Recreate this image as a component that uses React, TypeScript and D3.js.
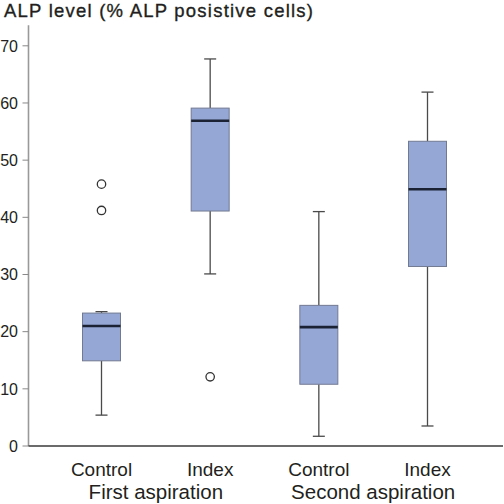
import React from "react";
import * as d3 from "d3";

const categories = ["Control", "Index", "Control ", "Index "];
const categoryLabels = ["Control", "Index", "Control", "Index"];
const groups = ["First aspiration", "Second aspiration"];
const groupOf = [0, 0, 1, 1];
const mins = [5.4, 30.1, 1.7, 3.5];
const q1s = [14.9, 41.1, 10.8, 31.4];
const medians = [21.0, 56.9, 20.8, 44.9];
const q3s = [23.25, 59.1, 24.6, 53.3];
const maxs = [23.5, 67.7, 41.0, 61.9];
const outliers: number[][] = [[41.2, 45.8], [12.1], [], []];
const yTicks = [0, 10, 20, 30, 40, 50, 60, 70];
const title = "ALP level (% ALP posistive cells)";

const W = 504;
const H = 504;
const FONT = "'Liberation Sans', Arial, Helvetica, sans-serif";
const TEXT = "#231f20";

export default function App() {
  const y = d3.scaleLinear().domain([0, 70]).range([446, 45.8]);
  const x = d3.scalePoint<string>().domain(categories).range([101.5, 427.5]);
  const boxW = 38;
  const capW = 12;
  const axisX = 28.5;

  return (
    <svg
      width={W}
      height={H}
      style={{ position: "absolute", left: 0, top: 0, display: "block", background: "#fff" }}
    >
      <text
        x={4}
        y={17}
        fontFamily={FONT}
        fontSize={18.5}
        fill={TEXT}
        stroke={TEXT}
        strokeWidth={0.35}
        textLength={309}
        lengthAdjust="spacing"
      >
        {title}
      </text>

      {/* y axis */}
      <line x1={axisX} x2={axisX} y1={y(0)} y2={y(73.6)} stroke="#999" strokeWidth={1.6} />
      {yTicks.map((t) => (
        <g key={t}>
          <line x1={axisX - 6} x2={axisX} y1={y(t)} y2={y(t)} stroke="#888" strokeWidth={1} />
          <text
            x={18}
            y={y(t)}
            dy="0.36em"
            textAnchor="end"
            fontFamily={FONT}
            fontSize={16}
            fill={TEXT}
          >
            {t}
          </text>
        </g>
      ))}

      {/* boxes */}
      {categories.map((c, i) => {
        const cx = x(c) as number;
        return (
          <g key={c}>
            <line x1={cx} x2={cx} y1={y(mins[i])} y2={y(q1s[i])} stroke="#4a4a4a" strokeWidth={1.3} />
            <line x1={cx} x2={cx} y1={y(q3s[i])} y2={y(maxs[i])} stroke="#4a4a4a" strokeWidth={1.3} />
            <line x1={cx - capW / 2} x2={cx + capW / 2} y1={y(mins[i])} y2={y(mins[i])} stroke="#4a4a4a" strokeWidth={1.3} />
            <line x1={cx - capW / 2} x2={cx + capW / 2} y1={y(maxs[i])} y2={y(maxs[i])} stroke="#4a4a4a" strokeWidth={1.3} />
            <rect
              x={cx - boxW / 2}
              y={y(q3s[i])}
              width={boxW}
              height={y(q1s[i]) - y(q3s[i])}
              fill="#95a7d5"
              stroke="#727a92"
              strokeWidth={1}
            />
            <line x1={cx - boxW / 2} x2={cx + boxW / 2} y1={y(medians[i])} y2={y(medians[i])} stroke="#1b2234" strokeWidth={2.6} />
            {outliers[i].map((o, k) => (
              <circle key={k} cx={cx} cy={y(o)} r={4.2} fill="#fff" stroke="#333" strokeWidth={1.3} />
            ))}
            <text x={cx} y={476} textAnchor="middle" fontFamily={FONT} fontSize={19} fill={TEXT}>
              {categoryLabels[i]}
            </text>
          </g>
        );
      })}

      {/* x axis */}
      <line x1={axisX} x2={503} y1={y(0)} y2={y(0)} stroke="#3a3a3a" strokeWidth={1.6} />

      {groups.map((g, gi) => {
        const members = categories.filter((_, i) => groupOf[i] === gi);
        const cx = d3.mean(members.map((m) => x(m) as number)) as number;
        return (
          <text key={g} x={cx} y={499} textAnchor="middle" fontFamily={FONT} fontSize={20.5} fill={TEXT}>
            {g}
          </text>
        );
      })}
    </svg>
  );
}
